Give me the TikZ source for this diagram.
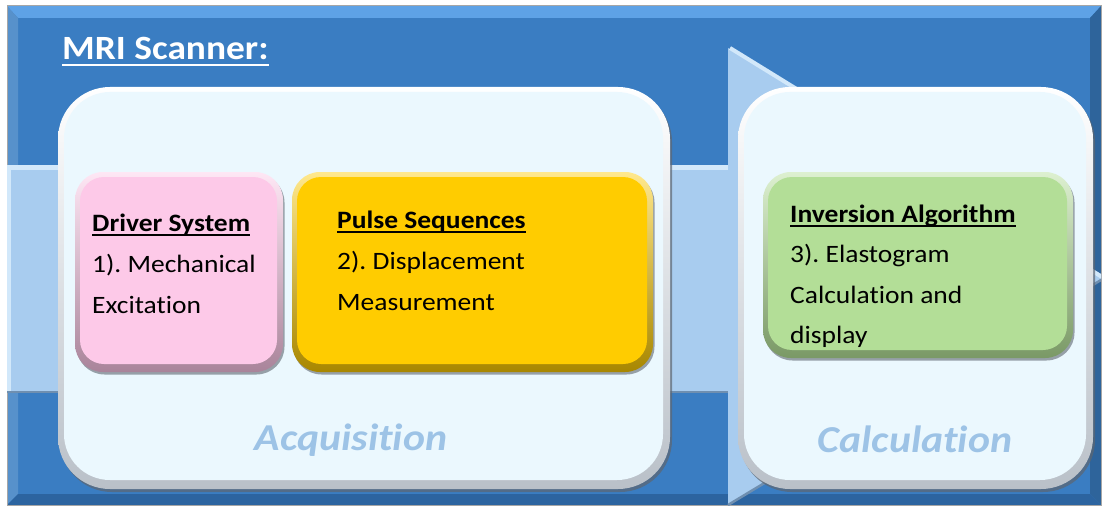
\documentclass[tikz,border=0pt]{standalone}
\usepackage{fontspec}
\setmainfont{Carlito}[FakeStretch=1.1, Ligatures=NoCommon]
\usetikzlibrary{calc,shadows}
\definecolor{bgblue}{HTML}{3A7DC2}
\definecolor{bglight}{HTML}{5EA2E6}
\definecolor{bgdark}{HTML}{2C64A0}
\definecolor{arrowblue}{HTML}{A8CCEF}
\definecolor{arrowlight}{HTML}{D2E8FA}
\definecolor{arrowdark}{HTML}{6F8FB0}
\definecolor{boxin}{HTML}{EBF8FE}
\definecolor{boxedge}{HTML}{B9C0C8}
\definecolor{shadowgray}{HTML}{5E6670}
\definecolor{pinkin}{HTML}{FDC9E8}
\definecolor{pinkedge}{HTML}{A9849A}
\definecolor{yellowin}{HTML}{FFCC00}
\definecolor{yellowedge}{HTML}{A88700}
\definecolor{greenin}{HTML}{B3DE97}
\definecolor{greenedge}{HTML}{7A9966}
\definecolor{labelblue}{HTML}{9DC3E6}
\newcommand\myul[1]{\setbox0=\hbox{#1}\rlap{\vrule height -0.11em depth 0.19em width \wd0}\box0}
\frenchspacing
\begin{document}
\begin{tikzpicture}[x=1pt,y=-1pt,
  bigbox/.style={rounded corners=52pt, inner sep=0pt, draw=none,
    drop shadow={shadow xshift=2pt, shadow yshift=-3pt, fill=shadowgray, opacity=0.7},
    top color=white, bottom color=boxedge,
    path picture={\fill[boxin, rounded corners=46pt]
      ($(path picture bounding box.north west)+(6pt,-5pt)$) rectangle
      ($(path picture bounding box.south east)+(-7pt,9pt)$);}},
  colbox/.style n args={3}{rounded corners=28pt, inner sep=0pt, draw=none,
    drop shadow={shadow xshift=1.5pt, shadow yshift=-2.5pt, fill=shadowgray, opacity=0.6},
    top color=#1!45!white, bottom color=#2,
    path picture={\fill[#3, rounded corners=24pt]
      ($(path picture bounding box.north west)+(5pt,-5pt)$) rectangle
      ($(path picture bounding box.south east)+(-6pt,8pt)$);}},
  bodytext/.style={anchor=north west, inner sep=0pt, align=left, text=black,
    font=\fontsize{25}{41}\selectfont},
  steptext/.style={anchor=base, inner sep=0pt, text=labelblue,
    font=\fontsize{38}{44}\selectfont\bfseries\itshape}]
\useasboundingbox (0,0) rectangle (1105,508);
% background panel
\fill[white] (0,0) rectangle (1105,508);
\fill[bgblue] (7,6) rectangle (1101,505);
\fill[bglight] (7,6) -- (1101,6) -- (1090,18) -- (18,18) -- cycle;
\fill[bgblue!85!white] (7,6) -- (18,18) -- (18,494) -- (7,505) -- cycle;
\fill[bgdark] (7,505) -- (18,494) -- (1090,494) -- (1101,505) -- cycle;
\fill[bgblue!80!black] (1101,6) -- (1090,18) -- (1090,494) -- (1101,505) -- cycle;
\draw[gray!70, line width=1pt] (7,6) rectangle (1101,505);
% big arrow
\begin{scope}
\clip (7,6) rectangle (1101,505);
\coordinate (as1) at (7,165);
\coordinate (as2) at (728,165);
\coordinate (ah1) at (728,48);
\coordinate (tip) at (1106,277);
\coordinate (ah2) at (728,505);
\coordinate (as3) at (728,392);
\coordinate (as4) at (7,392);
\fill[arrowblue] (as1) -- (as2) -- (ah1) -- (tip) -- (ah2) -- (as3) -- (as4) -- cycle;
\draw[arrowlight, line width=5pt] ([yshift=-2.5pt]as1) -- ([yshift=-2.5pt]as2);
\draw[arrowlight, line width=4pt] ([xshift=2pt]ah1) -- ([xshift=-4pt]tip);
\draw[arrowlight, line width=4pt] ([xshift=2pt]as1) -- ([xshift=2pt]as4);
\draw[arrowdark, line width=2.5pt] (as4) -- (as3);
\draw[arrowdark, line width=2.5pt] (tip) -- (ah2);
\end{scope}
% title
\node[anchor=base west, inner sep=0pt, text=white,
  font=\fontsize{34}{40}\selectfont\bfseries] (title) at (62,60) {\myul{MRI Scanner:}};
% big boxes
\node[bigbox, minimum width=612pt, minimum height=402pt] (acqbox) at (364,288) {};
\node[bigbox, minimum width=355pt, minimum height=402pt] (calbox) at (915.5,288) {};
% coloured boxes
\node[colbox={pinkin}{pinkedge}{pinkin}, minimum width=208pt, minimum height=200pt] (driver) at (179,272) {};
\node[colbox={yellowin}{yellowedge}{yellowin}, minimum width=361pt, minimum height=200pt] (pulse) at (472.5,272) {};
\node[colbox={greenin}{greenedge}{greenin}, minimum width=310pt, minimum height=186pt] (inversion) at (918,265) {};
% texts
\node[bodytext] (t1) at (92,206) {\rule{0pt}{25pt}\myul{\bfseries Driver System}\\1). Mechanical\\Excitation};
\node[bodytext] (t2) at (337,203) {\rule{0pt}{25pt}\myul{\bfseries Pulse Sequences}\\2). Displacement\\Measurement};
\node[bodytext, font=\fontsize{25}{40.5}\selectfont] (t3) at (790,197) {\rule{0pt}{25pt}\myul{\bfseries Inversion Algorithm}\\3). Elastogram\\Calculation and\\display};
\node[steptext] (acq) at (351,450) {Acquisition};
\node[steptext] (cal) at (915,452) {Calculation};
\end{tikzpicture}
\end{document}
